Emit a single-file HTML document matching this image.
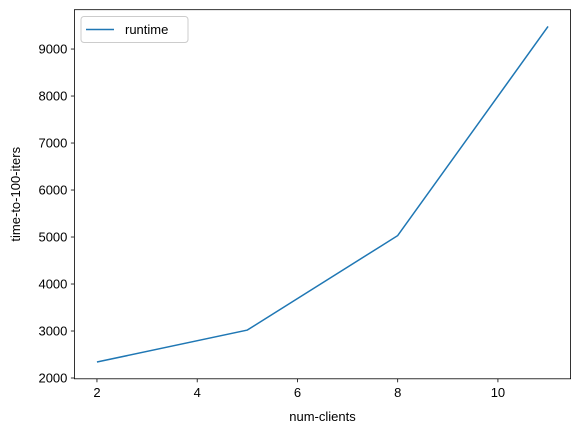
<!DOCTYPE html>
<html><head><meta charset="utf-8"><style>
body{margin:0;background:#fff}
text{font-family:"Liberation Sans","DejaVu Sans",sans-serif;font-size:13px;fill:#000}
</style></head><body>
<svg width="580" height="432">
<g id="g"></g>
</svg>
<script>
const xs=[2,5,8,11];
const ys=[2340,3020,5030,9480];
const xTicks=[2,4,6,8,10];
const yTicks=[2000,3000,4000,5000,6000,7000,8000,9000];
const L=74.4,R=570.6,T=9.7,B=378.8;
const xmin=1.55,xmax=11.45,ymin=1983,ymax=9837;
const X=v=>L+(v-xmin)/(xmax-xmin)*(R-L);
const Y=v=>B-(v-ymin)/(ymax-ymin)*(B-T);
const g=document.getElementById('g');
const ns='http://www.w3.org/2000/svg';
function el(t,a,txt){const e=document.createElementNS(ns,t);for(const k in a)e.setAttribute(k,a[k]);if(txt!=null)e.textContent=txt;g.appendChild(e);return e;}
xTicks.forEach(v=>{
 const t=el('line',{x1:X(v),x2:X(v),y1:B,y2:B+3.5,stroke:'#000','stroke-width':0.8});
 
 
 const l=el('text',{x:X(v),y:B+18,'text-anchor':'middle'},v);
 
 
});
yTicks.forEach(v=>{
 const t=el('line',{x1:L-3.5,x2:L,y1:Y(v),y2:Y(v),stroke:'#000','stroke-width':0.8});
 
 
 const l=el('text',{x:L-7,y:Y(v)+4.5,'text-anchor':'end'},v);
 
 
});
const line=el('polyline',{points:xs.map((x,i)=>X(x)+','+Y(ys[i])).join(' '),fill:'none',stroke:'#1f77b4','stroke-width':1.5});


const frame=el('rect',{x:L,y:T,width:R-L,height:B-T,fill:'none',stroke:'#000','stroke-width':0.8});


const xt=el('text',{x:(L+R)/2,y:421,'text-anchor':'middle'},'num-clients');


const yt=el('text',{x:0,y:0,'text-anchor':'middle',transform:`translate(20,${(T+B)/2}) rotate(-90)`},'time-to-100-iters');


const lg=el('rect',{x:81,y:16.5,width:107,height:26,rx:3,fill:'#fff',stroke:'#ccc','stroke-width':1});


const ll=el('line',{x1:86,x2:114,y1:29.5,y2:29.5,stroke:'#1f77b4','stroke-width':1.5});


const lt=el('text',{x:125,y:34},'runtime');


</script>
</body></html>
